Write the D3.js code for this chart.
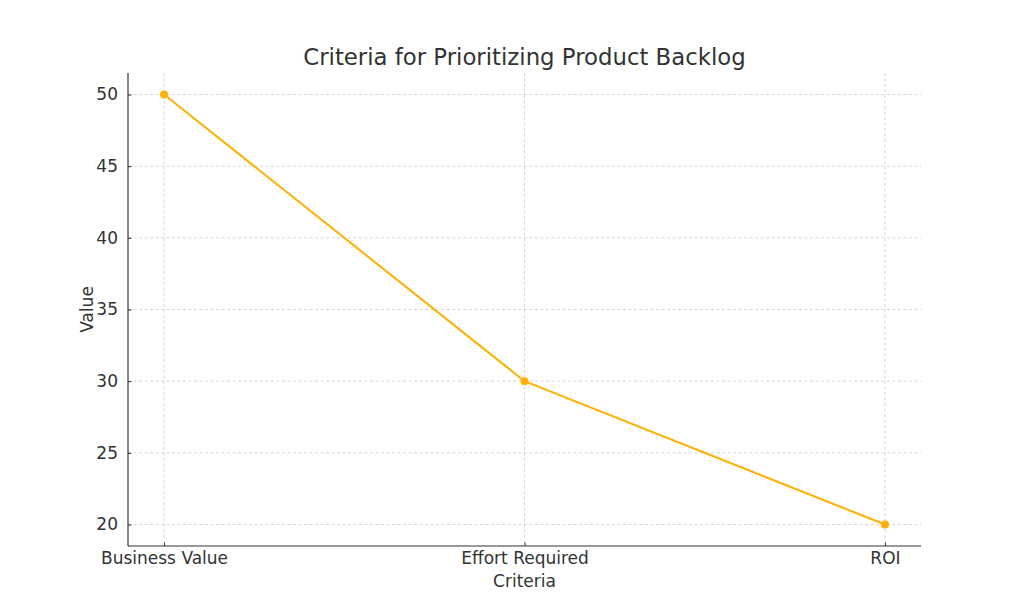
<!DOCTYPE html>
<html><head><meta charset="utf-8">
<script src="https://cdn.jsdelivr.net/npm/d3@7"></script>
<style>body{margin:0;background:#fff;} text{font-family:"DejaVu Sans",sans-serif;fill:#333;}</style>
</head><body>
<svg id="c" width="1024" height="614"></svg>
<script>
const categories = ["Business Value", "Effort Required", "ROI"];
const values = [50, 30, 20];
const yTicks = [20, 25, 30, 35, 40, 45, 50];

const L = 128, R = 921, T = 73, B = 546;
const svg = d3.select("#c");
const x = d3.scaleLinear().domain([-0.1, 2.1]).range([L, R]);
const y = d3.scaleLinear().domain([18.5, 51.5]).range([B, T]);

// grid
svg.append("g").selectAll("line").data(yTicks).join("line")
  .attr("x1", L).attr("x2", R).attr("y1", d => y(d)).attr("y2", d => y(d))
  .attr("stroke", "#ccc").attr("stroke-width", 0.8).attr("stroke-dasharray", "3,2.5");
svg.append("g").selectAll("line").data(categories).join("line")
  .attr("x1", (d, i) => x(i)).attr("x2", (d, i) => x(i)).attr("y1", T).attr("y2", B)
  .attr("stroke", "#ccc").attr("stroke-width", 0.8).attr("stroke-dasharray", "3,2.5");

// axes
const yAxis = d3.axisLeft(y).tickValues(yTicks).tickSizeInner(-3.5).tickSizeOuter(0).tickPadding(10);
const gy = svg.append("g").attr("transform", `translate(${L},0)`).call(yAxis);
gy.select(".domain").attr("stroke", "#333").attr("stroke-width", 1.2).attr("d", `M0,${T}V${B}`);
gy.selectAll(".tick line").attr("stroke", "#333");
gy.selectAll(".tick text").attr("font-size", 17).attr("fill", "#333").style("font-family", "DejaVu Sans");

const xAxis = d3.axisBottom(x).tickValues([0, 1, 2]).tickFormat(i => categories[i]).tickSizeInner(-3.5).tickSizeOuter(0).tickPadding(6);
const gx = svg.append("g").attr("transform", `translate(0,${B})`).call(xAxis);
gx.select(".domain").attr("stroke", "#333").attr("stroke-width", 1.2).attr("d", `M${L},0H${R}`);
gx.selectAll(".tick line").attr("stroke", "#333");
gx.selectAll(".tick text").attr("font-size", 17).attr("fill", "#333").style("font-family", "DejaVu Sans");

// line
const line = d3.line().x((d, i) => x(i)).y(d => y(d));
svg.append("path").datum(values).attr("d", line).attr("fill", "none")
  .attr("stroke", "#FFB000").attr("stroke-width", 2);
svg.append("g").selectAll("circle").data(values).join("circle")
  .attr("cx", (d, i) => x(i)).attr("cy", d => y(d)).attr("r", 4).attr("fill", "#FFB000");

// labels
svg.append("text").attr("x", (L + R) / 2).attr("y", 65).attr("text-anchor", "middle")
  .attr("font-size", 22.8).text("Criteria for Prioritizing Product Backlog");
svg.append("text").attr("x", (L + R) / 2).attr("y", 587).attr("text-anchor", "middle")
  .attr("font-size", 17).text("Criteria");
svg.append("text").attr("transform", `translate(93,${(T + B) / 2}) rotate(-90)`).attr("text-anchor", "middle")
  .attr("font-size", 17).text("Value");
</script>
</body></html>
